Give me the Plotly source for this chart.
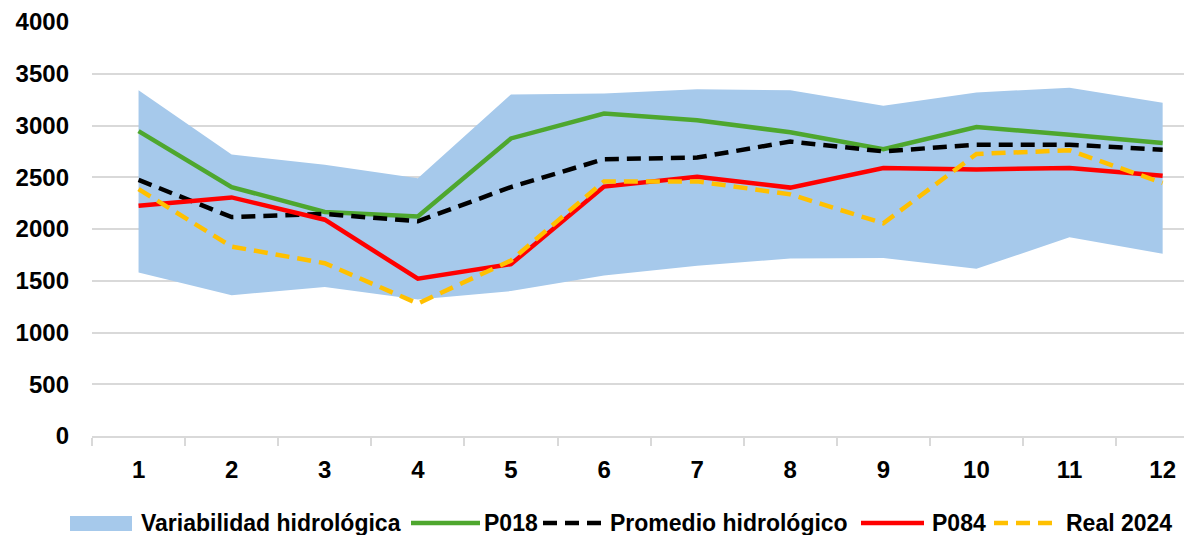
import plotly.graph_objects as go

months = list(range(1, 13))
band_upper = [3340, 2720, 2620, 2490, 3300, 3310, 3350, 3340, 3190, 3320, 3365, 3220]
band_lower = [1580, 1360, 1440, 1320, 1400, 1550, 1645, 1715, 1720, 1615, 1920, 1760]
p018 = [2945, 2405, 2165, 2120, 2875, 3115, 3050, 2935, 2770, 2985, 2910, 2830]
promedio = [2475, 2115, 2145, 2075, 2405, 2675, 2690, 2845, 2750, 2815, 2815, 2765]
p084 = [2225, 2305, 2090, 1520, 1660, 2410, 2505, 2400, 2590, 2575, 2590, 2515]
real2024 = [2385, 1830, 1670, 1280, 1695, 2460, 2460, 2335, 2055, 2725, 2760, 2445]

y_ticks = [0, 500, 1000, 1500, 2000, 2500, 3000, 3500, 4000]

names = ["Variabilidad hidrológica", "P018", "Promedio hidrológico", "P084", "Real 2024"]

BLUE = "#A6C9EB"
GREEN = "#4EA72E"
RED = "#FF0000"
YELLOW = "#FFC000"
BLACK = "#000000"
GRID = "#D9D9D9"
FONT = "Liberation Sans, Arial, sans-serif"
LW = 4.5

# page is offset by the 8px body margin; compensate
OFF = 8
PAGE_W, PAGE_H = 1192, 535
W, H = PAGE_W - OFF, PAGE_H - OFF
L, R, T, B = 92 - OFF, 0, 22 - OFF, 99
PW, PH = W - L - R, H - T - B

fig = go.Figure()
fig.add_trace(go.Scatter(x=months, y=band_lower, mode="lines", line=dict(width=0, color=BLUE),
                         showlegend=False, hoverinfo="skip"))
fig.add_trace(go.Scatter(x=months, y=band_upper, mode="lines", line=dict(width=0, color=BLUE),
                         fill="tonexty", fillcolor=BLUE, name=names[0], showlegend=False))
fig.add_trace(go.Scatter(x=months, y=p018, mode="lines", name=names[1],
                         line=dict(color=GREEN, width=LW), showlegend=False))
fig.add_trace(go.Scatter(x=months, y=promedio, mode="lines", name=names[2],
                         line=dict(color=BLACK, width=LW, dash="14px,8px"), showlegend=False))
fig.add_trace(go.Scatter(x=months, y=p084, mode="lines", name=names[3],
                         line=dict(color=RED, width=LW), showlegend=False))
fig.add_trace(go.Scatter(x=months, y=real2024, mode="lines", name=names[4],
                         line=dict(color=YELLOW, width=LW, dash="14px,8px"), showlegend=False))


def px_x(px):
    # px given in page coordinates
    return (px - OFF - L) / PW


def px_y(py):
    return (H - B - (py - OFF)) / PH


# custom legend (layout only)
leg_y = 523
shapes = []
annotations = []
shapes.append(dict(type="rect", xref="paper", yref="paper", x0=px_x(70), x1=px_x(132),
                   y0=px_y(531), y1=px_y(516), fillcolor=BLUE, line=dict(width=0)))
annotations.append(dict(text=names[0], x=px_x(139), xanchor="left"))
shapes.append(dict(type="line", xref="paper", yref="paper", x0=px_x(411), x1=px_x(480),
                   y0=px_y(leg_y), y1=px_y(leg_y), line=dict(color=GREEN, width=LW)))
annotations.append(dict(text=names[1], x=px_x(482), xanchor="left"))
shapes.append(dict(type="line", xref="paper", yref="paper", x0=px_x(543), x1=px_x(602),
                   y0=px_y(leg_y), y1=px_y(leg_y), line=dict(color=BLACK, width=LW, dash="14px,8px")))
annotations.append(dict(text=names[2], x=px_x(608), xanchor="left"))
shapes.append(dict(type="line", xref="paper", yref="paper", x0=px_x(861), x1=px_x(924),
                   y0=px_y(leg_y), y1=px_y(leg_y), line=dict(color=RED, width=LW)))
annotations.append(dict(text=names[3], x=px_x(930), xanchor="left"))
shapes.append(dict(type="line", xref="paper", yref="paper", x0=px_x(994), x1=px_x(1052),
                   y0=px_y(leg_y), y1=px_y(leg_y), line=dict(color=YELLOW, width=LW, dash="14px,8px")))
annotations.append(dict(text=names[4], x=px_x(1064), xanchor="left"))

for a in annotations:
    a.update(xref="paper", yref="paper", y=px_y(leg_y), yanchor="middle", showarrow=False,
             font=dict(family=FONT, size=23, color="black", weight="bold"))

fig.update_layout(
    width=W, height=H,
    margin=dict(l=L, r=R, t=T, b=B),
    paper_bgcolor="white", plot_bgcolor="white",
    showlegend=False,
    shapes=shapes,
    annotations=annotations,
    xaxis=dict(
        range=[0.5, 0.5 + PW / 93.1],
        tickvals=months, ticktext=[str(m) for m in months],
        ticks="", showgrid=False, zeroline=False,
        showline=True, linecolor=GRID, linewidth=1.5,
        tickfont=dict(family=FONT, size=24, color="black", weight="bold"),
        ticklabelstandoff=11,
        minor=dict(ticks="outside", tick0=0.5, dtick=1, ticklen=8, tickcolor=GRID,
                   tickwidth=1.5, showgrid=False),
    ),
    yaxis=dict(
        range=[0, 4000], tickvals=y_ticks,
        showgrid=True, gridcolor=GRID, gridwidth=1.5,
        zeroline=False, showline=False, ticks="",
        tickfont=dict(family=FONT, size=24, color="black", weight="bold"),
        ticklabelstandoff=22,
    ),
)

fig.write_html("out.html")
